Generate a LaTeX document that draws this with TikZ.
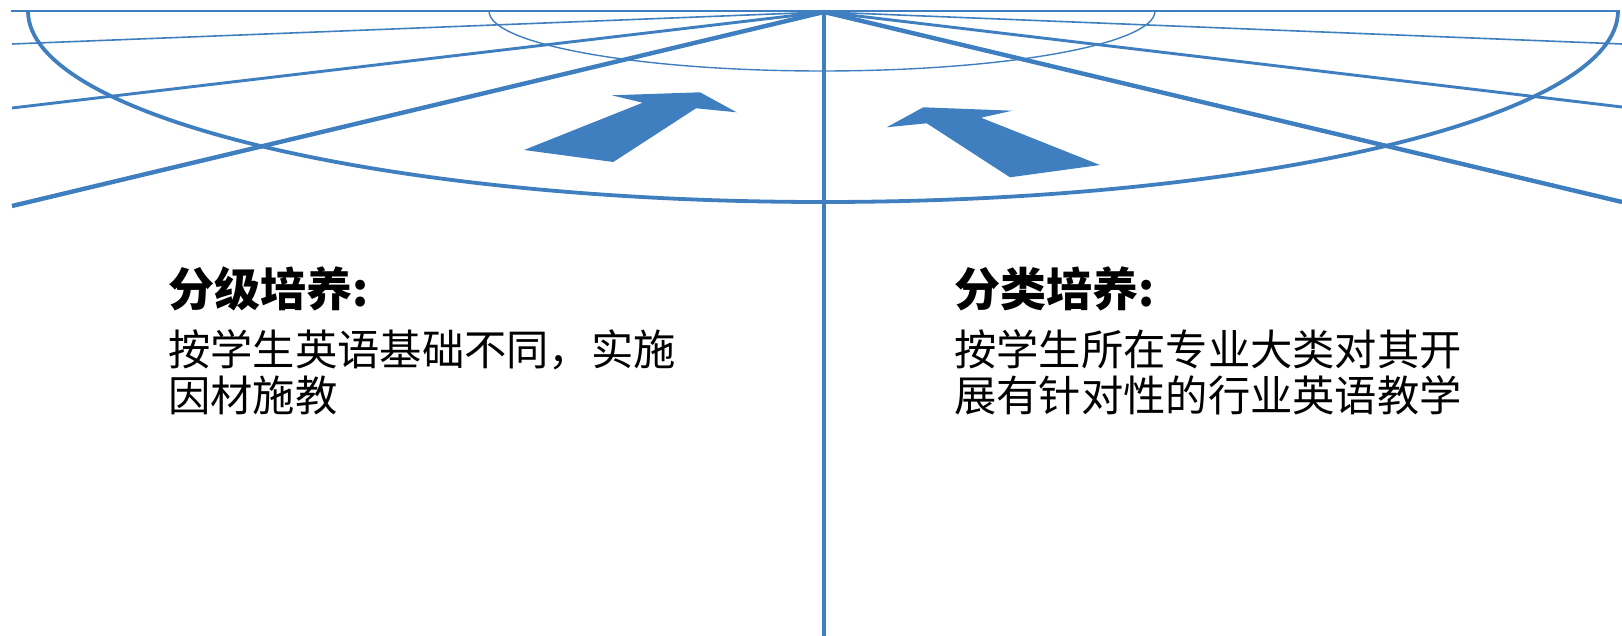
\documentclass[tikz,border=0pt]{standalone}
\usepackage{fontspec}
\newfontfamily\cjk{Noto Sans CJK SC}
\definecolor{rayblue}{HTML}{3F7FBF}
\tikzset{
  thinray/.style={draw=rayblue, line width=1.6pt},
  midray/.style={draw=rayblue, line width=2.9pt},
  thickray/.style={draw=rayblue, line width=4.4pt},
  flatarrow/.style={fill=rayblue, draw=none},
  heading/.style={inner sep=0pt, anchor=base west, font=\cjk\bfseries\fontsize{46}{50}\selectfont},
  body/.style={inner sep=0pt, anchor=base west, font=\cjk\fontsize{42.3}{46}\selectfont}
}

\begin{document}
\begin{tikzpicture}[x=1pt, y=-1pt]
\useasboundingbox (0,0) rectangle (1622,636);
\clip (0,0) rectangle (1622,636);
\coordinate (O) at (824,12);
\coordinate (L1) at (12,44);
\coordinate (L2) at (12,108);
\coordinate (L3) at (12,206);
\coordinate (R1) at (1622,44);
\coordinate (R2) at (1622,107);
\coordinate (R3) at (1622,202);
\coordinate (S) at (824,636);
% horizon and rays
\draw[thinray] (11,11) -- (1620,11);
\draw[thinray] (O) -- (L1);
\draw[thinray] (O) -- (R1);
\draw[midray] (O) -- (L2);
\draw[midray] (O) -- (R2);
\draw[thickray] (O) -- (L3);
\draw[thickray] (O) -- (R3);
% half ellipses
\draw[draw=rayblue, line width=3.8pt] (28,11) arc [start angle=180, end angle=0, x radius=795, y radius=191];
\draw[draw=rayblue, line width=1.4pt] (489,11) arc [start angle=180, end angle=0, x radius=333, y radius=60];
\draw[draw=rayblue, line width=4.6pt] (O) -- (S);
% arrows
\fill[flatarrow] (524,150) -- (642.7,102.7) -- (611.7,95.3) -- (700,92.3) -- (736.7,112.3) -- (696,108.3) -- (613.3,162) -- cycle;
\fill[flatarrow] (1010,177.3) -- (926.7,123.3) -- (886.7,127.3) -- (923.3,107.3) -- (1012.3,110.7) -- (981,117.7) -- (1100,165) -- cycle;
% texts
\node[heading] (h1) at (168,307) {分级培养:};
\node[body] (a1) at (168,365) {按学生英语基础不同，实施};
\node[body] (a2) at (168,411) {因材施教};
\node[heading] (h2) at (954,307) {分类培养:};
\node[body] (b1) at (954,365) {按学生所在专业大类对其开};
\node[body] (b2) at (954,411) {展有针对性的行业英语教学};
\end{tikzpicture}
\end{document}
